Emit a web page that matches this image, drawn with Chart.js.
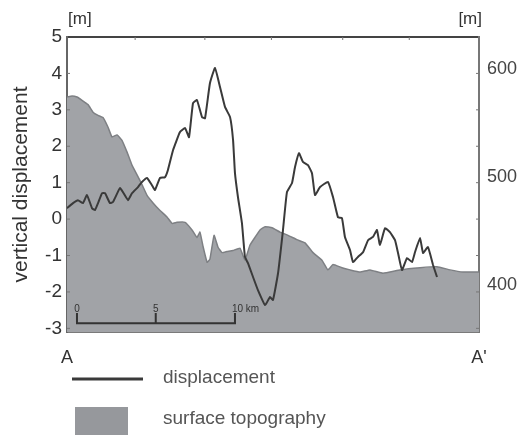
<!DOCTYPE html>
<html>
<head>
<meta charset="utf-8">
<title>Displacement profile A-A'</title>
<script src="https://cdn.jsdelivr.net/npm/chart.js@4.4.0/dist/chart.umd.min.js"></script>
<style>
  html, body { margin: 0; padding: 0; background: #fff; }
  #wrap { width: 530px; height: 435px; }
</style>
</head>
<body>
<div id="wrap"><canvas id="profileChart" width="530" height="435"></canvas></div>
<script>
// distance along profile (km) and vertical displacement (m)
var dispKm = [0,0.38,0.69,1.01,1.26,1.58,1.77,1.96,2.21,2.40,2.71,2.90,3.34,3.53,3.85,4.10,4.48,4.73,5.05,5.36,
  5.55,5.87,6.18,6.37,6.69,7.13,7.45,7.70,7.95,8.20,8.52,8.71,9.02,9.34,9.66,9.97,10.29,10.48,10.60,10.79,
  11.04,11.23,11.42,11.74,12.05,12.50,12.81,13.00,13.32,13.63,13.88,14.20,14.39,14.64,14.89,15.21,15.46,15.65,15.97,16.47,
  16.79,17.10,17.35,17.54,17.86,18.05,18.36,18.68,19.00,19.31,19.56,19.75,20.07,20.38,20.70,20.89,21.14,21.46,21.77,21.96,
  22.28,22.47,22.78,23.10,23.35];
var dispM = [0.30,0.44,0.52,0.44,0.66,0.30,0.25,0.44,0.71,0.71,0.44,0.47,0.85,0.74,0.52,0.71,0.88,1.02,1.13,0.93,
  0.80,1.13,1.15,1.35,1.89,2.39,2.50,2.25,3.18,3.27,2.80,2.77,3.73,4.15,3.62,3.08,2.80,2.17,1.26,0.60,
  -0.11,-1.04,-1.21,-1.59,-1.95,-2.36,-2.14,-2.22,-1.48,-0.30,0.74,0.99,1.43,1.81,1.57,1.48,1.26,0.66,0.88,1.02,
  0.60,0.05,0.03,-0.49,-0.85,-1.18,-1.04,-0.91,-0.58,-0.49,-0.30,-0.71,-0.25,-0.36,-0.58,-0.93,-1.40,-1.07,-1.18,-0.91,
  -0.52,-0.93,-0.77,-1.26,-1.59];

// surface topography (m a.s.l.)
var topoKm = [0,0.32,0.63,0.95,1.33,1.64,1.96,2.27,2.59,2.84,3.16,3.47,3.79,4.10,4.42,4.73,5.05,5.43,5.87,6.31,
  6.63,6.94,7.45,7.89,8.20,8.39,8.58,8.84,9.02,9.28,9.53,9.78,10.10,10.48,10.92,11.23,11.55,11.86,12.18,12.50,
  12.94,13.44,13.95,14.51,15.02,15.52,16.09,16.47,16.79,17.35,17.86,18.49,19.12,19.94,21.01,22.28,23.35,24.17,24.99,26.0];
var topoM = [574,575,574,571,567,560,557,555,546,537,539,534,523,511,502,493,483,476,469,463,
  457,458,458,451,444,449,436,421,424,446,435,430,431,432,434,423,437,444,451,454,
  453,449,446,442,439,430,423,414,419,416,414,412,414,411,414,416,417,414,412,412];

// scale bar (km) and its labels
var barKm = [0.63, 5.6, 10.6];
var barLabels = ["0", "5", "10 km"];
var barY = -2.86, barTickY = -2.58;

var endLabels = ["A", "A'"];
var rightTicks = [400, 500, 600];
var topTicks = [4.3, 8.7, 12.9, 17.4, 21.6];
var seriesNames = ["displacement", "surface topography"];

var FONT = "'Liberation Sans', Arial, sans-serif";
var lineCol = "#3a3a3a";
var topoCol = "rgb(161,163,167)";

function pts(xs, ys) {
  return xs.map(function (x, i) { return { x: x, y: ys[i] }; });
}

var barPts = [
  { x: barKm[0], y: barTickY }, { x: barKm[0], y: barY },
  { x: barKm[1], y: barY }, { x: barKm[1], y: barTickY }, { x: barKm[1], y: barY },
  { x: barKm[2], y: barY }, { x: barKm[2], y: barTickY }
];

var extras = {
  id: 'extras',
  afterDraw: function (chart) {
    var ctx = chart.ctx, a = chart.chartArea;
    var sx = chart.scales.x, sy = chart.scales.y;
    ctx.save();
    // unit labels
    ctx.fillStyle = "#333";
    ctx.font = "17px " + FONT;
    ctx.textBaseline = "middle";
    ctx.textAlign = "left";
    ctx.fillText("[m]", a.left + 1, 19);
    ctx.textAlign = "right";
    ctx.fillText("[m]", a.right + 3, 19);
    // small inner ticks on the frame
    ctx.strokeStyle = "#777";
    ctx.lineWidth = 1;
    topTicks.forEach(function (v) {
      var px = sx.getPixelForValue(v);
      ctx.beginPath(); ctx.moveTo(px, a.top); ctx.lineTo(px, a.top + 3); ctx.stroke();
    });
    for (var v = -3; v <= 4; v++) {
      var py = sy.getPixelForValue(v);
      ctx.beginPath(); ctx.moveTo(a.right, py); ctx.lineTo(a.right - 3, py); ctx.stroke();
      ctx.beginPath(); ctx.moveTo(a.left, py); ctx.lineTo(a.left + 3, py); ctx.stroke();
    }
    // scale bar labels
    ctx.fillStyle = "#333";
    ctx.font = "10px " + FONT;
    ctx.textAlign = "center";
    ctx.textBaseline = "bottom";
    var ly = sy.getPixelForValue(barTickY) + 1;
    barKm.forEach(function (k, i) {
      var px = sx.getPixelForValue(k);
      if (i === barKm.length - 1) {
        ctx.textAlign = "left";
        ctx.fillText(barLabels[i], px - 3, ly);
      } else {
        ctx.fillText(barLabels[i], px, ly);
      }
    });
    // legend
    ctx.font = "19px " + FONT;
    ctx.fillStyle = "#555";
    ctx.textAlign = "left";
    ctx.textBaseline = "middle";
    ctx.strokeStyle = lineCol;
    ctx.lineWidth = 3;
    ctx.beginPath(); ctx.moveTo(72, 379); ctx.lineTo(143, 379); ctx.stroke();
    ctx.fillText(seriesNames[0], 163, 378);
    ctx.fillStyle = "rgb(150,152,156)";
    ctx.fillRect(75, 407, 53, 28);
    ctx.fillStyle = "#555";
    ctx.fillText(seriesNames[1], 163, 419);
    ctx.restore();
  }
};

var ctx1 = document.getElementById("profileChart");
var profileChart = new Chart(ctx1, {
  type: 'line',
  data: {
    datasets: [{
      label: seriesNames[0],
      data: pts(dispKm, dispM),
      xAxisID: 'x',
      yAxisID: 'y',
      borderColor: lineCol,
      borderWidth: 2,
      pointRadius: 0,
      tension: 0.12,
      fill: false,
      order: 1
    }, {
      label: seriesNames[1],
      data: pts(topoKm, topoM),
      xAxisID: 'x',
      yAxisID: 'y1',
      borderColor: "#7e8084",
      borderWidth: 1.5,
      backgroundColor: topoCol,
      pointRadius: 0,
      tension: 0.1,
      fill: 'start',
      order: 3
    }, {
      label: 'scale bar',
      data: barPts,
      xAxisID: 'x',
      yAxisID: 'y',
      borderColor: "#333",
      borderWidth: 2,
      pointRadius: 0,
      tension: 0,
      fill: false,
      order: 0
    }]
  },
  options: {
    responsive: false,
    animation: false,
    layout: { padding: 0 },
    plugins: { legend: { display: false }, tooltip: { enabled: false } },
    scales: {
      x: {
        type: 'linear', position: 'bottom', min: 0, max: 26,
        afterBuildTicks: function (s) { s.ticks = [{ value: 0 }, { value: 26 }]; },
        afterFit: function (s) { s.height = 103; },
        ticks: {
          callback: function (v, i) { return endLabels[i]; },
          font: { family: FONT, size: 18 }, color: "#333", padding: 15, maxRotation: 0
        },
        grid: { display: true, drawOnChartArea: false, drawTicks: false },
        border: { color: "#7a7a7a", width: 2 }
      },
      x2: {
        type: 'linear', position: 'top', min: 0, max: 26,
        afterFit: function (s) { s.height = 37; },
        ticks: { display: false },
        grid: { display: true, drawOnChartArea: false, drawTicks: false },
        border: { color: "#444", width: 2 }
      },
      y: {
        type: 'linear', position: 'left', min: -3.1, max: 5,
        afterBuildTicks: function (s) {
          var t = [];
          for (var v = -3; v <= 5; v++) t.push({ value: v });
          s.ticks = t;
        },
        afterFit: function (s) { s.width = 67; },
        ticks: { font: { family: FONT, size: 19 }, color: "#333", padding: 5 },
        grid: { display: true, drawOnChartArea: false, drawTicks: false },
        border: { color: "#666", width: 2 },
        title: {
          display: true, text: 'vertical displacement',
          font: { family: FONT, size: 21 }, color: "#333",
          padding: { top: 9, bottom: 0 }
        }
      },
      y1: {
        type: 'linear', position: 'right', min: 356.5, max: 629.6,
        afterBuildTicks: function (s) { s.ticks = rightTicks.map(function (v) { return { value: v }; }); },
        afterFit: function (s) { s.width = 51; },
        ticks: { font: { family: FONT, size: 18 }, color: "#444", padding: 8 },
        grid: { display: true, drawOnChartArea: false, drawTicks: false },
        border: { color: "#777", width: 2 }
      }
    }
  },
  plugins: [extras]
});
</script>
</body>
</html>
